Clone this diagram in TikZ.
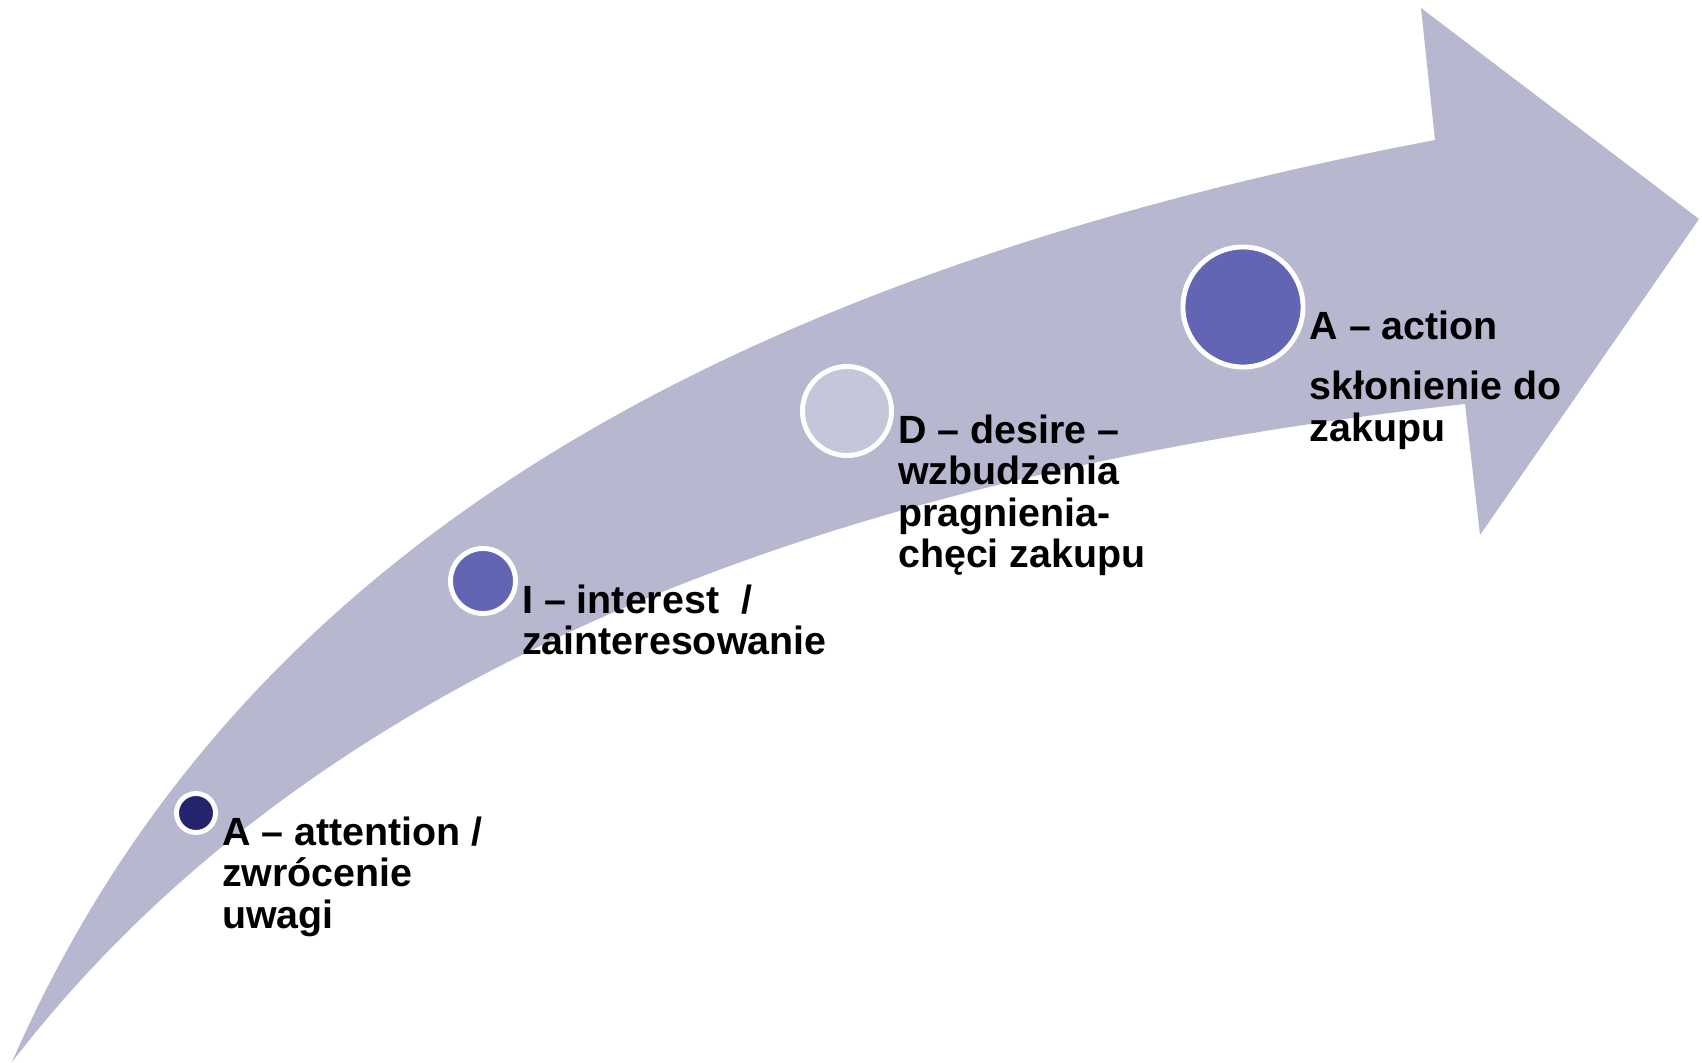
\documentclass[tikz,border=0pt]{standalone}
\usepackage{fontspec}
\setmainfont{Liberation Sans}
\definecolor{fleche}{RGB}{183,183,208}
\definecolor{fonce}{RGB}{36,36,110}
\definecolor{moyen}{RGB}{98,100,180}
\definecolor{clair}{RGB}{197,198,218}
\begin{document}
\begin{tikzpicture}[x=0.01cm, y=-0.01cm]
\tikzset{etape/.style={draw=white, line width=1.4pt, circle, inner sep=0pt},
legende/.style={anchor=north west, align=left, inner sep=1pt, font=\bfseries\fontsize{11.2}{11.7}\selectfont}}
\useasboundingbox (0,0) rectangle (1702,1063);
% la fleche courbe
\fill[fleche] (12,1062) .. controls (222,581) and (674,285) .. (1435,140)
  -- (1421,8) -- (1699,219) -- (1480,535) -- (1465,404)
  .. controls (869,470) and (329,651) .. (12,1062) -- cycle;
% les etapes
\node[etape, fill=fonce, minimum size=0.39cm] (E1) at (196,813) {};
\node[etape, fill=moyen, minimum size=0.65cm] (E2) at (483,581) {};
\node[etape, fill=clair, minimum size=0.89cm] (E3) at (847,411) {};
\node[etape, fill=moyen, minimum size=1.2cm] (E4) at (1243,307) {};
\node[legende] (T1) at (E1.east) {A – attention /\\zwrócenie\\uwagi};
\node[legende] (T2) at (E2.east) {I – interest~ /\\zainteresowanie};
\node[legende] (T3) at (E3.east) {D – desire –\\wzbudzenia\\pragnienia-\\chęci zakupu};
\node[legende] (T4) at (E4.east) {A – action\\[5.4pt]skłonienie do\\zakupu};
\end{tikzpicture}
\end{document}
